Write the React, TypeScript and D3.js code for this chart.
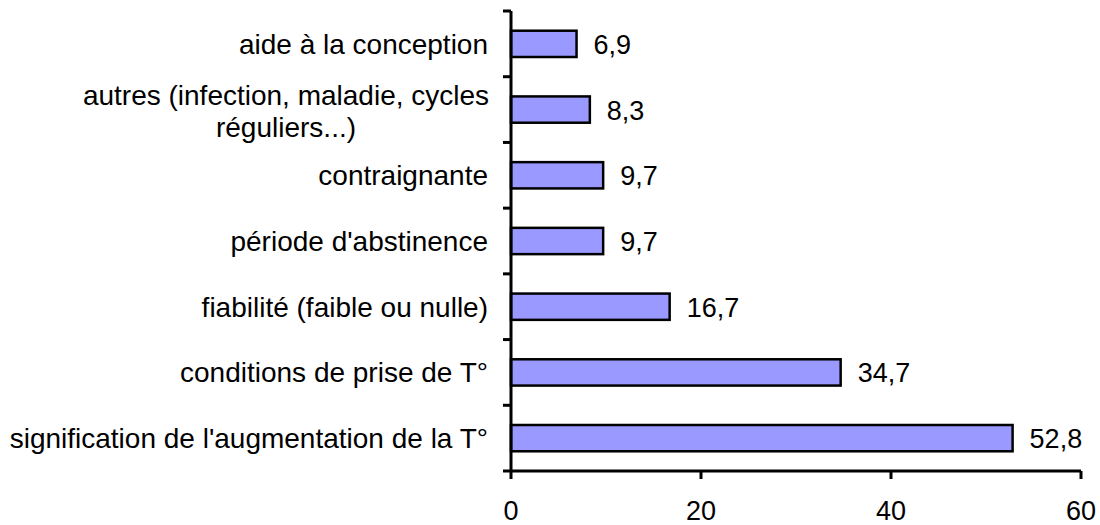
import React from "react";
import * as d3 from "d3";

const categories = [
  "aide à la conception",
  "autres (infection, maladie, cycles|réguliers...)",
  "contraignante",
  "période d'abstinence",
  "fiabilité (faible ou nulle)",
  "conditions de prise de T°",
  "signification de l'augmentation de la T°",
];
const values = [6.9, 8.3, 9.7, 9.7, 16.7, 34.7, 52.8];
const xTicks = [0, 20, 40, 60];

const width = 1100;
const height = 525;
const left = 511;
const right = 1081;
const top = 11;
const bottom = 471;
const labelRight = 488;
const font = "'Liberation Sans', Arial, sans-serif";

const x = d3.scaleLinear().domain([0, 60]).range([left, right]);
// bars centred in each band
const y = d3.scaleBand<string>().domain(categories).range([top, bottom]).paddingInner(0.6).paddingOuter(0.3);
const band = d3.scaleBand<string>().domain(categories).range([top, bottom]);

const fmt = (v: number) => v.toFixed(1).replace(".", ",");

const App = () => {
  return (
    <svg
      width={width}
      height={height}
      style={{ position: "absolute", left: 0, top: 0, background: "#fff" }}
      fontFamily={font}
    >
      {categories.map((c, i) => (
        <g key={c}>
          <rect
            x={x(0)}
            y={y(c)}
            width={x(values[i]) - x(0)}
            height={y.bandwidth()}
            fill="#9999FF"
            stroke="#000"
            strokeWidth={2.5}
          />
          <text
            x={x(values[i]) + 17}
            y={(y(c) ?? 0) + y.bandwidth() / 2 + 10}
            fontSize={27}
            fill="#000"
          >
            {fmt(values[i])}
          </text>
        </g>
      ))}

      {/* y axis */}
      <line x1={left} x2={left} y1={top} y2={bottom} stroke="#000" strokeWidth={3} />
      {[...categories.map((c) => band(c) ?? 0), bottom].map((t, i) => (
        <line key={i} x1={left - 8} x2={left} y1={t} y2={t} stroke="#000" strokeWidth={3} />
      ))}
      {categories.map((c) => {
        const lines = c.split("|");
        const cy = (band(c) ?? 0) + band.bandwidth() / 2;
        if (lines.length === 1) {
          return (
            <text key={c} x={labelRight} y={cy + 10} textAnchor="end" fontSize={28} fill="#000">
              {c}
            </text>
          );
        }
        return (
          <text key={c} fontSize={28} fill="#000" textAnchor="middle">
            <tspan x={286} y={cy - 5}>{lines[0]}</tspan>
            <tspan x={286} y={cy + 27}>{lines[1]}</tspan>
          </text>
        );
      })}

      {/* x axis */}
      <line x1={left} x2={right} y1={bottom} y2={bottom} stroke="#000" strokeWidth={3} />
      {xTicks.map((t) => (
        <g key={t}>
          <line x1={x(t)} x2={x(t)} y1={bottom} y2={bottom + 8} stroke="#000" strokeWidth={3} />
          <text x={x(t)} y={bottom + 49} textAnchor="middle" fontSize={27} fill="#000">
            {t}
          </text>
        </g>
      ))}
    </svg>
  );
};

export default App;
